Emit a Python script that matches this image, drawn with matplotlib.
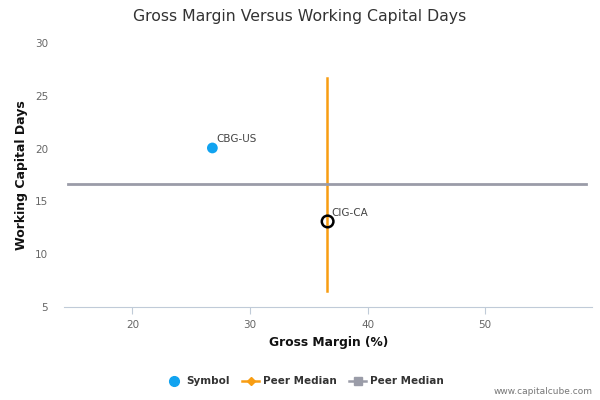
import matplotlib
matplotlib.use("Agg")
import matplotlib.pyplot as plt
from matplotlib.lines import Line2D

# Data
symbols = ["CBG-US", "CIG-CA"]
gross_margin = [26.8, 36.6]
wc_days = [20.06, 13.1]
peer_median_x = 36.55
peer_median_x_span = [6.55, 26.65]
peer_median_y = 16.62
peer_median_y_span = [14.55, 58.55]
x_ticks = [20, 30, 40, 50]
y_ticks = [5, 10, 15, 20, 25, 30]

blue = "#11a3f0"
orange = "#f89d12"
gray = "#9a9ca8"
text_gray = "#666666"

fig = plt.figure(figsize=(6, 4), dpi=100)
ax = fig.add_axes([0.107, 0.2325, 0.88, 0.66])
ax.set_xlim(14.2, 59.1)
ax.set_ylim(5, 30)

ax.plot([peer_median_x, peer_median_x], peer_median_x_span, color=orange, lw=1.8, zorder=2)
ax.plot(peer_median_y_span, [peer_median_y, peer_median_y], color=gray, lw=2, zorder=2)

ax.scatter([gross_margin[0]], [wc_days[0]], s=60, color=blue, zorder=3, edgecolors="none")
ax.scatter([gross_margin[1]], [wc_days[1]], s=70, facecolors="none", edgecolors="black", linewidths=1.8, zorder=4)

ax.annotate(symbols[0], (gross_margin[0], wc_days[0]), xytext=(3, 4), textcoords="offset points",
            fontsize=7.5, color="#444444")
ax.annotate(symbols[1], (gross_margin[1], wc_days[1]), xytext=(3, 4), textcoords="offset points",
            fontsize=7.5, color="#444444")

for s in ["top", "right", "left"]:
    ax.spines[s].set_visible(False)
ax.spines["bottom"].set_color("#c0cbd8")
ax.set_xticks(x_ticks)
ax.set_yticks(y_ticks)
ax.tick_params(axis="x", colors="#c0cbd8", labelcolor=text_gray, labelsize=7.5, length=5, pad=4)
ax.tick_params(axis="y", length=0, labelcolor=text_gray, labelsize=7.5, pad=11.5)

ax.set_xlabel("Gross Margin (%)", fontsize=8.8, fontweight="bold", color="#111111", labelpad=5)
ax.set_ylabel("Working Capital Days", fontsize=9, fontweight="bold", color="#111111")
ax.yaxis.set_label_coords(-0.068, 0.5)

fig.text(0.5, 0.958, "Gross Margin Versus Working Capital Days", ha="center", va="center",
         fontsize=11.3, color="#333333")

handles = [
    Line2D([], [], color=blue, marker="o", linestyle="none", markersize=7),
    Line2D([], [], color=orange, marker="D", linestyle="-", lw=1.8, markersize=4.5),
    Line2D([], [], color=gray, marker="s", linestyle="-", lw=1.8, markersize=5.5),
]
leg = fig.legend(handles, ["Symbol", "Peer Median", "Peer Median"], loc="center",
                 bbox_to_anchor=(0.508, 0.047), ncol=3, frameon=False, fontsize=7.5,
                 handlelength=1.6, columnspacing=1.2, handletextpad=0.4)
for t in leg.get_texts():
    t.set_fontweight("bold")
    t.set_color("#333333")

fig.text(0.987, 0.02, "www.capitalcube.com", ha="right", va="center", fontsize=6.5, color="#777777")

fig.savefig("out.png", dpi=100)
